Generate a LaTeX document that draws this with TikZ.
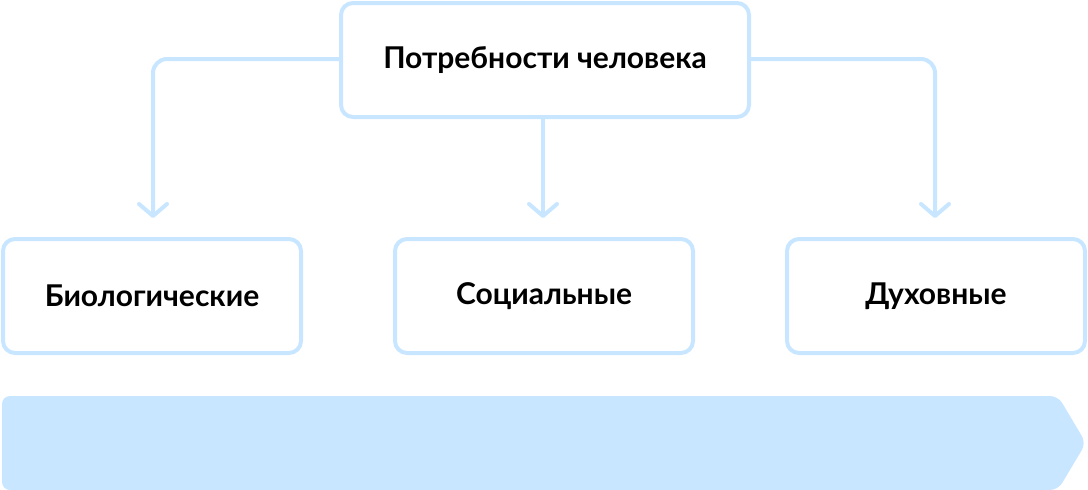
\documentclass[tikz,border=0pt]{standalone}
\usepackage{fontspec}
\setmainfont{Lato}
\usetikzlibrary{arrows.meta}
\definecolor{lb}{HTML}{C8E6FF}
\tikzset{
  box/.style={draw=lb, line width=4pt, rounded corners=12pt, fill=white, minimum width=298pt, minimum height=114pt, font=\bfseries\fontsize{30}{34}\selectfont, text=black, inner sep=0pt},
  conn/.style={draw=lb, line width=4pt, rounded corners=14pt, -{Straight Barb[length=12pt,width=28pt,line cap=round,line join=round]}},
}
\begin{document}
\begin{tikzpicture}[x=1pt,y=-1pt]
\useasboundingbox (0,0) rectangle (1088,490);
\node[box, minimum width=408pt] (top) at (545,60) {Потребности человека};
\node[box] (bio) at (152,296) {Биологические};
\node[box] (soc) at (544,296) {Социальные};
\node[box] (duh) at (936,296) {Духовные};
\coordinate (bt) at (153,218);
\coordinate (st) at (543,218);
\coordinate (dt) at (935,218);
\draw[conn] (top.west |- 0,59) -| (bt);
\draw[conn] (top.south -| st) -- (st);
\draw[conn] (top.east |- 0,59) -| (dt);
\fill[lb, rounded corners=8pt] (2,396) -- (1058,396) -- (1086,443) -- (1058,490) -- (2,490) -- cycle;
\end{tikzpicture}
\end{document}
